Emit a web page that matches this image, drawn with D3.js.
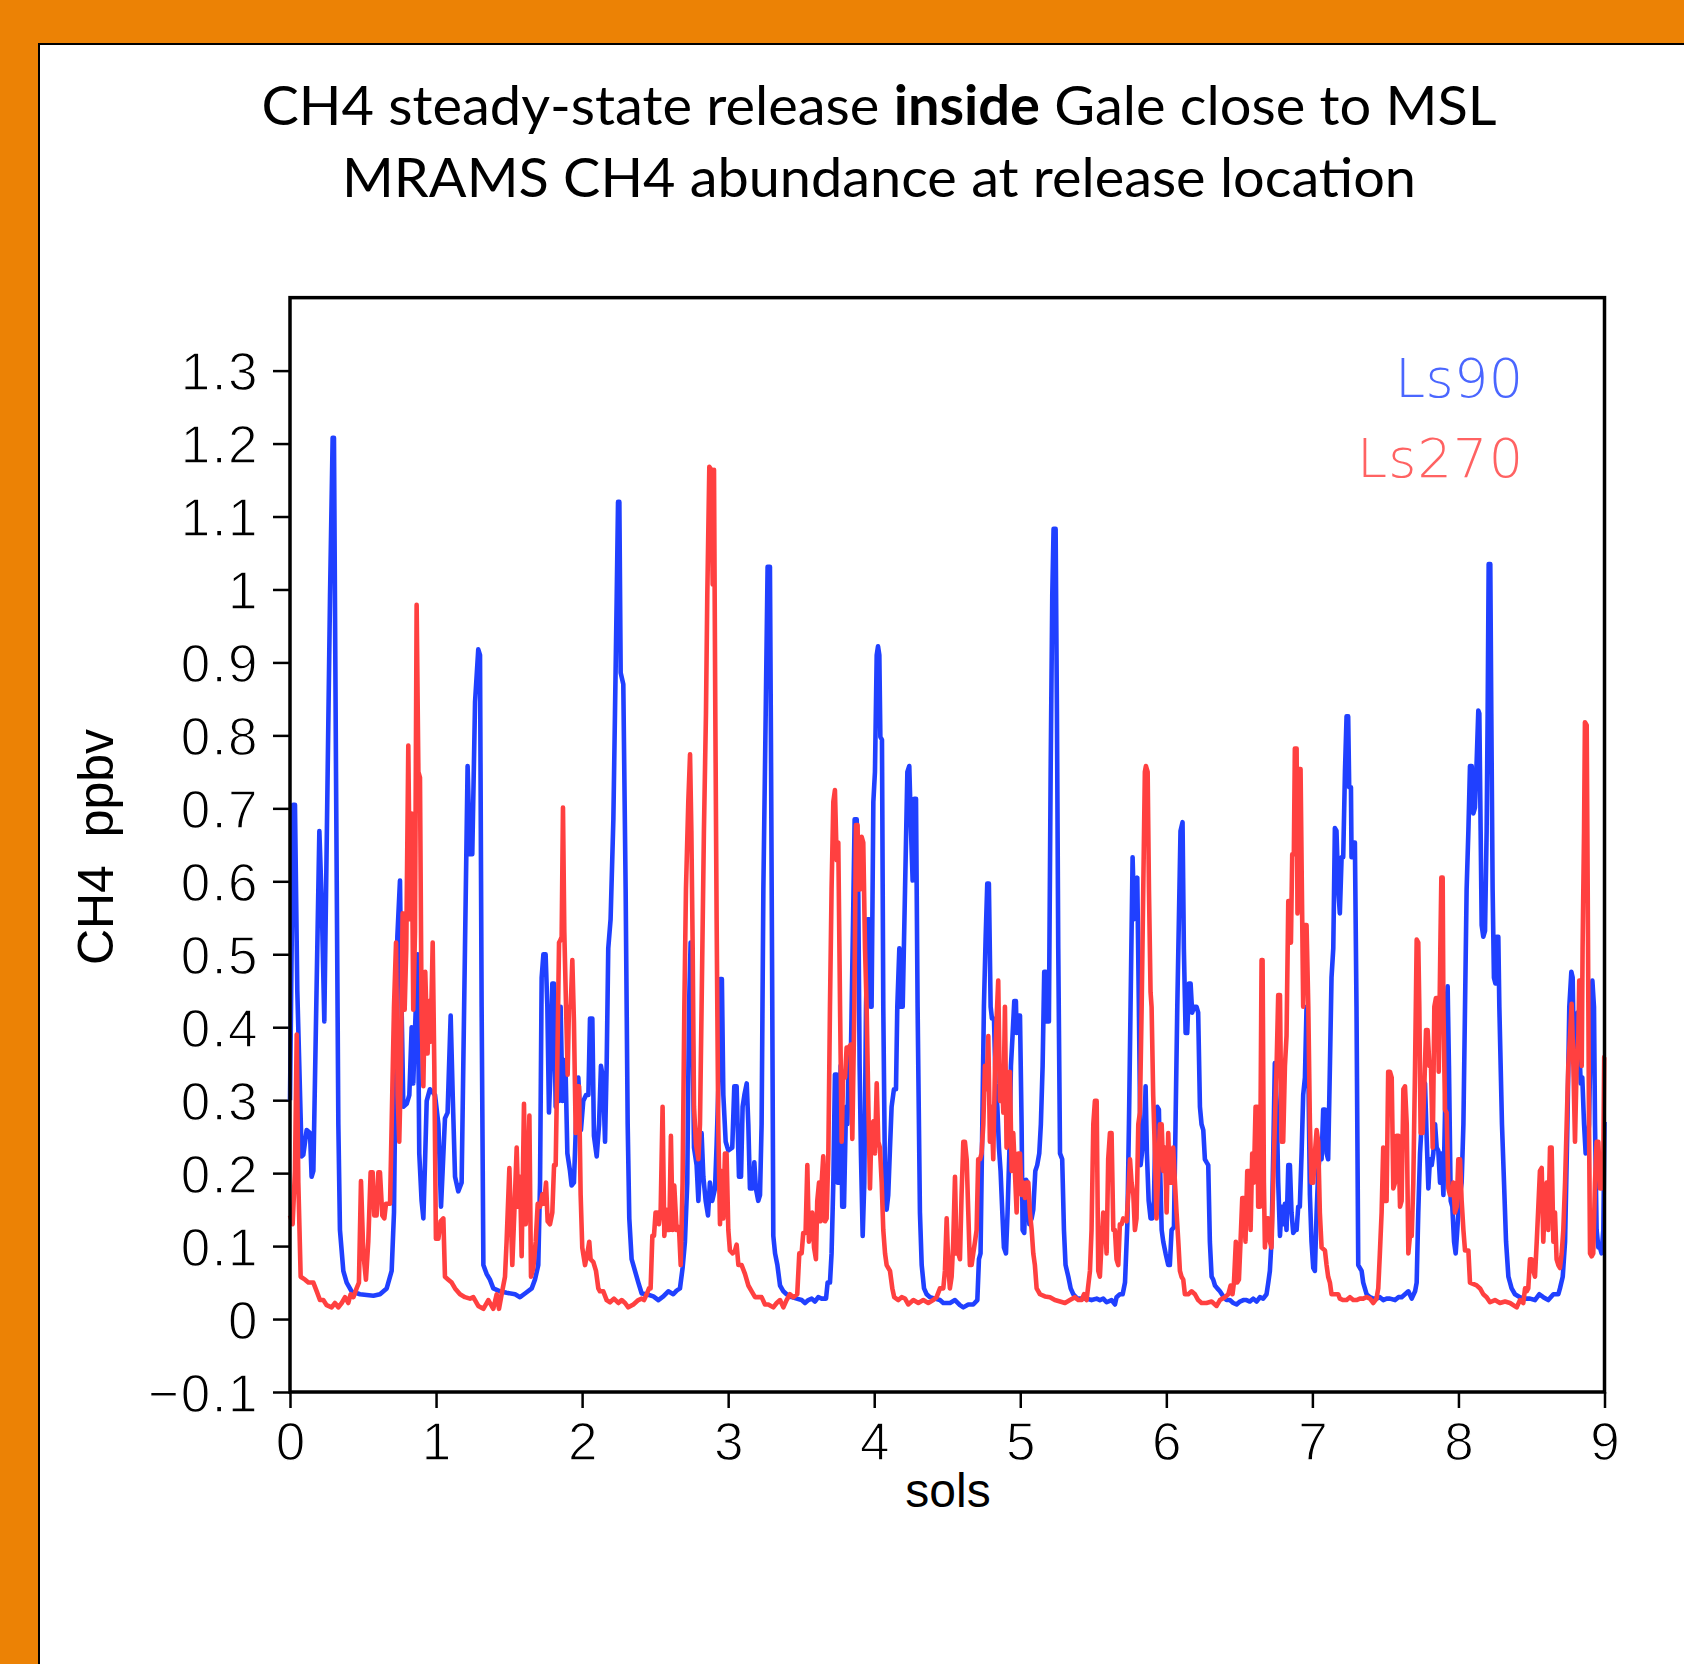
<!DOCTYPE html>
<html>
<head>
<meta charset="utf-8">
<script src="https://cdn.jsdelivr.net/npm/d3@7"></script>
<style>
  html, body { margin: 0; padding: 0; background: #EC8205; }
  svg { display: block; }
</style>
</head>
<body>
<script>
// ---------------- DATA ----------------
const titleLines = [
  [{t: "CH4 steady-state release ", b: false}, {t: "inside", b: true}, {t: " Gale close to MSL", b: false}],
  [{t: "MRAMS CH4 abundance at release location", b: false}]
];
const xLabel = "sols";
const yLabel = "CH4  ppbv";
const seriesNames = ["Ls90", "Ls270"];
const xTicks = [0, 1, 2, 3, 4, 5, 6, 7, 8, 9];
const yTicks = [-0.1, 0, 0.1, 0.2, 0.3, 0.4, 0.5, 0.6, 0.7, 0.8, 0.9, 1.0, 1.1, 1.2, 1.3];
const yTickLabels = ["\u22120.1", "0", "0.1", "0.2", "0.3", "0.4", "0.5", "0.6", "0.7", "0.8", "0.9", "1", "1.1", "1.2", "1.3"];

// Ls90 series: [sol, ppbv]
const ls90 = [
[0.000,0.30],[0.022,0.705],[0.034,0.705],[0.050,0.45],[0.080,0.223],[0.091,0.225],[0.114,0.259],[0.137,0.255],[0.148,0.195],[0.160,0.203],
[0.201,0.669],[0.217,0.573],[0.235,0.408],[0.274,0.991],[0.292,1.208],[0.301,1.208],[0.315,0.750],[0.331,0.267],[0.342,0.122],[0.365,0.066],
[0.388,0.050],[0.422,0.038],[0.479,0.034],[0.571,0.032],[0.616,0.034],[0.662,0.042],[0.696,0.066],[0.712,0.146],[0.723,0.347],[0.735,0.524],
[0.753,0.601],[0.764,0.428],[0.776,0.291],[0.799,0.295],[0.817,0.307],[0.833,0.400],[0.844,0.323],[0.856,0.396],[0.874,0.500],[0.885,0.227],
[0.901,0.162],[0.913,0.138],[0.924,0.211],[0.936,0.299],[0.958,0.315],[0.993,0.307],[1.016,0.267],[1.034,0.154],[1.045,0.203],[1.061,0.275],
[1.079,0.283],[1.100,0.416],[1.114,0.307],[1.130,0.195],[1.152,0.175],[1.175,0.187],[1.198,0.508],[1.216,0.758],[1.232,0.637],[1.248,0.637],
[1.267,0.846],[1.289,0.918],[1.301,0.910],[1.312,0.428],[1.324,0.074],[1.346,0.062],[1.369,0.054],[1.392,0.042],[1.438,0.038],
[1.483,0.036],[1.541,0.034],[1.575,0.030],[1.609,0.035],[1.655,0.042],[1.677,0.054],[1.700,0.074],[1.712,0.187],[1.723,0.468],[1.735,0.500],
[1.750,0.500],[1.762,0.428],[1.773,0.283],[1.785,0.347],[1.796,0.460],[1.807,0.460],[1.819,0.291],[1.830,0.323],[1.842,0.299],[1.853,0.428],
[1.865,0.299],[1.876,0.355],[1.887,0.339],[1.899,0.227],[1.917,0.203],[1.928,0.183],[1.944,0.187],[1.958,0.267],[1.974,0.331],[1.992,0.259],
[2.008,0.299],[2.027,0.307],[2.043,0.307],[2.054,0.412],[2.070,0.412],[2.081,0.251],[2.100,0.223],[2.116,0.267],[2.129,0.347],[2.143,0.331],
[2.157,0.243],[2.168,0.347],[2.179,0.508],[2.195,0.548],[2.214,0.685],[2.225,0.830],[2.237,0.991],[2.246,1.120],[2.255,1.120],[2.264,0.886],
[2.282,0.870],[2.298,0.589],[2.312,0.267],[2.323,0.138],[2.339,0.082],[2.362,0.066],[2.385,0.050],[2.408,0.035],[2.442,0.034],[2.488,0.031],
[2.522,0.026],[2.556,0.031],[2.590,0.038],[2.624,0.034],[2.647,0.039],[2.670,0.042],[2.688,0.070],[2.704,0.106],[2.720,0.187],[2.732,0.428],
[2.743,0.516],[2.757,0.388],[2.766,0.235],[2.784,0.211],[2.796,0.162],[2.807,0.211],[2.818,0.255],[2.830,0.195],[2.846,0.162],[2.862,0.142],
[2.875,0.187],[2.891,0.162],[2.910,0.179],[2.921,0.239],[2.935,0.331],[2.946,0.466],[2.957,0.466],
[2.967,0.307],[2.983,0.243],[3.001,0.231],[3.028,0.235],[3.042,0.319],[3.058,0.319],[3.074,0.195],[3.088,0.195],[3.099,0.291],[3.111,0.307],
[3.127,0.323],[3.138,0.267],[3.149,0.179],[3.168,0.179],[3.179,0.215],[3.190,0.179],[3.206,0.162],[3.218,0.170],[3.229,0.267],[3.241,0.589],
[3.257,0.830],[3.270,1.031],[3.286,1.031],[3.293,0.790],[3.302,0.428],[3.309,0.114],[3.321,0.090],[3.337,0.074],[3.355,0.046],[3.378,0.038],
[3.400,0.034],[3.435,0.030],[3.469,0.028],[3.503,0.026],[3.526,0.022],[3.549,0.026],[3.572,0.028],[3.594,0.024],[3.617,0.030],[3.640,0.028],
[3.670,0.028],[3.681,0.050],[3.697,0.050],[3.708,0.090],[3.720,0.187],[3.731,0.335],[3.743,0.335],[3.750,0.187],[3.761,0.187],[3.770,0.347],
[3.781,0.154],[3.793,0.154],[3.807,0.291],[3.816,0.267],[3.827,0.364],[3.841,0.372],[3.852,0.508],[3.866,0.685],[3.880,0.685],[3.891,0.581],
[3.900,0.347],[3.909,0.227],[3.921,0.114],[3.932,0.187],[3.944,0.428],[3.955,0.548],[3.966,0.548],[3.975,0.428],[3.982,0.428],[3.994,0.709],
[4.005,0.750],[4.017,0.910],[4.026,0.922],[4.035,0.910],[4.042,0.798],[4.053,0.794],[4.062,0.428],[4.074,0.187],[4.085,0.150],[4.096,0.170],
[4.108,0.235],[4.119,0.291],[4.135,0.315],[4.149,0.315],[4.158,0.428],[4.172,0.508],[4.183,0.428],[4.195,0.428],[4.211,0.589],[4.227,0.750],
[4.240,0.758],[4.252,0.669],[4.263,0.601],[4.274,0.713],[4.286,0.713],[4.297,0.428],[4.313,0.146],[4.325,0.074],[4.341,0.042],[4.359,0.034],
[4.382,0.030],[4.416,0.028],[4.450,0.026],[4.473,0.022],[4.519,0.022],
[4.553,0.026],[4.587,0.019],[4.610,0.016],[4.644,0.020],[4.678,0.020],[4.706,0.026],[4.717,0.082],[4.728,0.090],[4.740,0.267],[4.751,0.428],
[4.763,0.524],[4.774,0.597],[4.785,0.597],[4.797,0.428],[4.806,0.412],[4.820,0.412],[4.831,0.323],[4.843,0.291],[4.854,0.235],[4.865,0.203],
[4.877,0.146],[4.888,0.098],[4.902,0.090],[4.913,0.146],[4.925,0.227],[4.936,0.347],[4.947,0.388],[4.959,0.436],[4.970,0.436],[4.975,0.392],
[4.986,0.416],[4.998,0.416],[5.009,0.267],[5.016,0.122],[5.027,0.118],[5.039,0.191],[5.050,0.187],[5.062,0.130],[5.078,0.138],[5.089,0.150],
[5.103,0.203],[5.116,0.211],[5.130,0.227],[5.141,0.267],[5.153,0.347],[5.164,0.476],[5.176,0.476],[5.185,0.408],[5.196,0.408],[5.208,0.750],
[5.219,0.991],[5.228,1.083],[5.242,1.083],[5.251,0.830],[5.260,0.508],[5.272,0.227],[5.287,0.219],[5.299,0.122],[5.310,0.074],[5.329,0.058],
[5.345,0.042],[5.363,0.034],[5.390,0.028],[5.420,0.028],[5.454,0.028],[5.488,0.026],[5.523,0.028],[5.545,0.026],[5.568,0.028],[5.591,0.023],
[5.625,0.026],[5.648,0.020],[5.659,0.030],[5.682,0.034],[5.701,0.034],[5.717,0.050],[5.733,0.130],[5.744,0.267],[5.755,0.428],[5.769,0.633],
[5.780,0.548],[5.790,0.590],[5.801,0.605],[5.812,0.428],[5.824,0.211],[5.835,0.231],[5.847,0.235],[5.858,0.319],[5.867,0.227],[5.879,0.162],
[5.892,0.138],[5.904,0.138],[5.915,0.162],[5.926,0.267],[5.938,0.291],[5.949,0.287],[5.956,0.219],[5.968,0.122],[5.979,0.106],[5.995,0.090],
[6.013,0.074],[6.024,0.074],[6.036,0.122],[6.052,0.126],[6.063,0.267],[6.075,0.428],[6.086,0.548],[6.097,0.669],[6.111,0.681],[6.120,0.508],
[6.132,0.392],[6.143,0.392],[6.155,0.460],[6.166,0.460],[6.177,0.420],[6.189,0.428],[6.207,0.428],[6.218,0.420],[6.230,0.291],[6.241,0.267],
[6.253,0.259],[6.264,0.219],[6.275,0.215],[6.287,0.211],[6.298,0.106],[6.310,0.058],[6.321,0.054],[6.333,0.046],[6.349,0.042],[6.367,0.038],
[6.390,0.031],[6.412,0.026],[6.435,0.026],[6.458,0.022],[6.481,0.020],[6.504,0.024],[6.527,0.026],[6.549,0.026],[6.572,0.024],[6.595,0.028],
[6.618,0.024],[6.641,0.030],[6.663,0.028],[6.686,0.034],[6.698,0.050],[6.709,0.066],[6.720,0.106],[6.732,0.227],[6.743,0.351],[6.755,0.299],
[6.766,0.187],[6.778,0.114],[6.789,0.154],[6.800,0.130],[6.812,0.158],[6.823,0.122],[6.835,0.211],[6.846,0.211],[6.857,0.146],[6.869,0.118],
[6.880,0.122],[6.892,0.122],[6.903,0.154],[6.914,0.154],[6.926,0.227],[6.937,0.307],[6.949,0.331],[6.960,0.428],[6.972,0.347],[6.983,0.170],
[6.994,0.106],[7.006,0.070],[7.017,0.066],[7.029,0.146],[7.040,0.203],[7.051,0.227],[7.063,0.219],[7.074,0.287],[7.086,0.287],[7.097,0.227],
[7.108,0.219],[7.120,0.347],[7.131,0.468],[7.143,0.508],[7.154,0.673],[7.165,0.669],[7.177,0.589],[7.188,0.556],[7.200,0.633],[7.211,0.633],
[7.223,0.750],[7.234,0.826],[7.245,0.826],[7.252,0.729],[7.264,0.729],[7.268,0.633],[7.280,0.653],[7.291,0.653],[7.302,0.428],[7.314,0.074],
[7.337,0.066],[7.348,0.050],[7.371,0.034],[7.394,0.030],[7.417,0.028],[7.439,0.028],[7.462,0.030],[7.485,0.026],[7.508,0.028],
[7.531,0.028],[7.566,0.026],[7.589,0.030],[7.611,0.030],[7.634,0.034],[7.657,0.038],[7.680,0.028],[7.703,0.038],[7.714,0.050],[7.725,0.146],
[7.737,0.227],[7.748,0.267],[7.760,0.307],[7.771,0.323],[7.782,0.251],[7.794,0.179],[7.805,0.219],[7.817,0.211],[7.828,0.227],[7.840,0.267],
[7.851,0.235],[7.862,0.231],[7.874,0.187],[7.885,0.227],[7.897,0.170],[7.908,0.283],[7.919,0.428],[7.926,0.456],[7.935,0.347],[7.947,0.162],
[7.958,0.154],[7.970,0.106],[7.981,0.090],[7.992,0.122],[8.004,0.162],[8.022,0.187],[8.034,0.267],[8.045,0.428],[8.056,0.589],[8.068,0.669],
[8.079,0.758],[8.091,0.758],[8.102,0.693],[8.113,0.701],[8.125,0.766],[8.136,0.834],[8.143,0.830],[8.152,0.669],[8.159,0.540],[8.170,0.524],
[8.182,0.532],[8.193,0.669],[8.200,0.830],[8.207,1.035],[8.218,1.035],[8.225,0.830],[8.234,0.589],[8.243,0.468],[8.253,0.460],[8.262,0.524],
[8.273,0.524],[8.280,0.428],[8.289,0.347],[8.298,0.267],[8.312,0.187],[8.326,0.106],[8.342,0.058],[8.364,0.042],[8.387,0.034],[8.421,0.030],
[8.456,0.028],[8.490,0.028],[8.524,0.026],[8.554,0.034],[8.581,0.030],[8.615,0.026],[8.650,0.034],[8.684,0.034],[8.695,0.042],[8.714,0.058],
[8.730,0.106],[8.746,0.267],[8.759,0.428],[8.773,0.476],[8.782,0.468],[8.793,0.331],[8.805,0.404],[8.816,0.420],[8.825,0.388],[8.837,0.323],
[8.848,0.331],[8.860,0.267],[8.871,0.227],[8.882,0.235],[8.894,0.267],[8.905,0.388],[8.917,0.464],[8.928,0.428],[8.935,0.267],[8.946,0.122],
[8.958,0.098],[8.969,0.098],[8.980,0.090],[8.992,0.122],[9.000,0.270]
];

// Ls270 series: [sol, ppbv]
const ls270 = [
[0.000,0.142],[0.018,0.130],[0.034,0.203],[0.046,0.390],[0.057,0.187],[0.073,0.058],[0.103,0.054],[0.126,0.050],[0.160,0.050],[0.183,0.038],
[0.205,0.026],[0.228,0.026],[0.251,0.019],[0.285,0.016],[0.308,0.022],[0.331,0.016],[0.354,0.022],[0.377,0.030],[0.399,0.022],[0.415,0.034],
[0.434,0.030],[0.456,0.042],[0.472,0.050],[0.486,0.189],[0.502,0.090],[0.520,0.054],[0.536,0.106],[0.552,0.201],[0.566,0.201],[0.577,0.142],
[0.593,0.142],[0.605,0.201],[0.616,0.201],[0.632,0.142],[0.646,0.138],[0.657,0.158],[0.685,0.158],[0.696,0.267],[0.712,0.428],[0.726,0.516],
[0.737,0.307],[0.748,0.243],[0.760,0.347],[0.771,0.556],[0.785,0.424],[0.796,0.508],[0.810,0.786],[0.822,0.548],[0.833,0.693],[0.844,0.424],
[0.856,0.532],[0.867,0.979],[0.879,0.750],[0.890,0.742],[0.901,0.412],[0.913,0.319],[0.926,0.476],[0.942,0.364],[0.952,0.436],[0.963,0.380],
[0.977,0.516],[0.988,0.347],[0.999,0.110],[1.016,0.110],[1.031,0.134],[1.050,0.138],[1.061,0.058],[1.084,0.054],[1.107,0.050],[1.130,0.042],
[1.164,0.034],[1.198,0.030],[1.232,0.028],[1.255,0.030],[1.289,0.018],[1.324,0.014],[1.358,0.026],[1.392,0.014],[1.415,0.034],[1.431,0.014],
[1.449,0.034],[1.472,0.058],[1.483,0.106],[1.502,0.207],
[1.511,0.146],[1.522,0.074],[1.536,0.146],[1.552,0.235],[1.563,0.154],[1.575,0.195],[1.586,0.086],[1.602,0.295],[1.614,0.130],[1.627,0.187],
[1.639,0.279],[1.650,0.058],[1.666,0.070],[1.682,0.106],[1.696,0.158],[1.712,0.154],[1.728,0.171],[1.739,0.158],[1.753,0.187],[1.764,0.134],
[1.780,0.130],[1.796,0.146],[1.808,0.211],[1.819,0.211],[1.830,0.347],[1.842,0.516],[1.853,0.520],[1.860,0.524],[1.869,0.701],[1.878,0.532],
[1.890,0.428],[1.901,0.335],[1.910,0.428],[1.922,0.428],[1.933,0.492],[1.944,0.408],[1.956,0.255],[1.967,0.319],[1.979,0.319],[1.990,0.170],
[2.001,0.098],[2.020,0.074],[2.036,0.090],[2.049,0.106],[2.058,0.082],[2.077,0.078],[2.095,0.066],[2.111,0.042],[2.122,0.038],[2.145,0.038],
[2.168,0.026],[2.191,0.023],[2.218,0.028],[2.248,0.022],[2.271,0.026],[2.294,0.022],[2.316,0.016],[2.351,0.020],[2.385,0.026],[2.408,0.028],
[2.424,0.026],[2.442,0.034],[2.458,0.042],[2.469,0.042],[2.481,0.114],[2.492,0.114],[2.503,0.146],[2.515,0.146],[2.526,0.130],[2.538,0.150],
[2.551,0.291],[2.563,0.114],[2.574,0.150],[2.586,0.122],[2.597,0.122],[2.608,0.251],[2.620,0.122],[2.631,0.183],[2.647,0.122],[2.663,0.126],
[2.675,0.074],[2.688,0.187],[2.700,0.428],[2.711,0.589],[2.727,0.709],[2.739,0.774],[2.748,0.669],[2.757,0.508],[2.766,0.291],[2.780,0.239],
[2.796,0.219],[2.807,0.267],[2.818,0.428],[2.834,0.669],[2.848,0.830],[2.857,0.991],[2.871,1.168],[2.885,1.164],[2.894,1.007],[2.903,1.164],
[2.912,0.830],[2.921,0.548],[2.932,0.267],[2.944,0.130],[2.955,0.203],[2.967,0.138],[2.978,0.227],[2.989,0.227],[3.001,0.122],
[3.012,0.094],[3.031,0.090],[3.047,0.094],[3.058,0.102],[3.070,0.074],[3.092,0.074],[3.115,0.062],[3.138,0.046],[3.161,0.038],[3.184,0.030],
[3.229,0.030],[3.252,0.020],[3.275,0.020],[3.309,0.016],[3.332,0.022],[3.355,0.026],[3.378,0.016],[3.400,0.026],[3.423,0.034],[3.446,0.030],
[3.473,0.034],[3.487,0.090],[3.503,0.090],[3.514,0.118],[3.530,0.118],[3.542,0.211],[3.553,0.106],[3.565,0.122],[3.576,0.146],[3.588,0.098],
[3.601,0.082],[3.610,0.162],[3.622,0.187],[3.633,0.134],[3.640,0.187],[3.651,0.223],[3.663,0.134],[3.674,0.138],[3.686,0.227],[3.697,0.428],
[3.708,0.589],[3.720,0.709],[3.731,0.725],[3.743,0.629],[3.754,0.653],[3.766,0.428],[3.777,0.243],[3.788,0.339],[3.800,0.331],[3.811,0.372],
[3.823,0.372],[3.839,0.376],[3.850,0.247],[3.864,0.428],[3.875,0.677],[3.886,0.677],[3.893,0.589],[3.902,0.589],[3.914,0.661],[3.925,0.653],
[3.937,0.508],[3.948,0.428],[3.960,0.291],[3.971,0.179],[3.982,0.267],[3.994,0.271],[4.005,0.227],[4.017,0.323],[4.028,0.243],[4.039,0.235],
[4.051,0.187],[4.062,0.122],[4.074,0.090],[4.085,0.074],[4.108,0.066],[4.124,0.042],[4.137,0.030],[4.165,0.026],[4.188,0.030],[4.211,0.028],
[4.233,0.020],[4.268,0.026],[4.302,0.022],[4.336,0.026],[4.370,0.022],[4.404,0.026],[4.427,0.030],[4.450,0.042],[4.473,0.042],[4.484,0.066],
[4.496,0.138],[4.507,0.074],[4.518,0.042],[4.530,0.058],[4.541,0.106],[4.553,0.195],[4.564,0.090],[4.576,0.090],[4.587,0.082],[4.598,0.170],
[4.610,0.243],[4.621,0.243],[4.633,0.219],[4.644,0.146],[4.655,0.074],[4.667,0.074],[4.678,0.090],[4.690,0.106],[4.701,0.122],[4.712,0.219],
[4.724,0.219],[4.735,0.227],[4.747,0.267],[4.758,0.347],[4.769,0.315],[4.781,0.388],[4.792,0.243],[4.804,0.291],[4.815,0.219],[4.827,0.347],
[4.838,0.412],[4.849,0.464],[4.861,0.299],[4.872,0.347],[4.884,0.283],[4.895,0.428],[4.906,0.235],[4.918,0.307],[4.929,0.339],[4.941,0.203],
[4.952,0.255],[4.963,0.203],[4.975,0.146],[4.986,0.227],[4.998,0.227],[5.009,0.170],[5.021,0.187],[5.032,0.166],[5.043,0.187],[5.055,0.187],
[5.066,0.146],[5.078,0.122],[5.089,0.090],[5.100,0.074],[5.112,0.042],[5.135,0.034],[5.169,0.031],[5.203,0.030],[5.237,0.026],[5.272,0.024],
[5.306,0.022],[5.340,0.026],[5.374,0.030],[5.397,0.026],[5.420,0.026],[5.436,0.034],[5.454,0.026],[5.477,0.066],[5.488,0.122],[5.500,0.267],
[5.511,0.299],[5.523,0.299],[5.534,0.066],[5.545,0.058],[5.557,0.106],[5.568,0.146],[5.580,0.138],[5.591,0.090],[5.602,0.219],[5.614,0.255],
[5.625,0.255],[5.637,0.122],[5.648,0.122],[5.659,0.082],[5.671,0.074],[5.682,0.130],[5.694,0.130],[5.705,0.138],[5.728,0.134],[5.739,0.170],
[5.751,0.219],[5.762,0.187],[5.774,0.170],[5.785,0.122],[5.796,0.138],[5.808,0.267],[5.819,0.283],[5.831,0.428],[5.842,0.589],[5.853,0.750],
[5.860,0.758],[5.872,0.750],[5.881,0.589],[5.892,0.448],[5.899,0.428],[5.910,0.307],[5.922,0.227],[5.933,0.138],[5.945,0.203],[5.956,0.267],
[5.968,0.267],[5.979,0.203],[5.990,0.235],[6.002,0.146],[6.013,0.255],[6.024,0.187],[6.036,0.187],[6.047,0.235],[6.059,0.187],[6.070,0.146],
[6.082,0.106],[6.093,0.066],[6.104,0.058],[6.116,0.054],[6.127,0.034],[6.150,0.034],[6.173,0.038],[6.196,0.034],[6.218,0.026],[6.241,0.022],
[6.275,0.022],[6.310,0.024],[6.344,0.018],[6.367,0.026],[6.401,0.030],[6.424,0.034],[6.440,0.046],[6.453,0.034],[6.463,0.050],[6.476,0.106],
[6.485,0.050],[6.497,0.054],[6.508,0.106],[6.520,0.166],[6.531,0.166],[6.542,0.106],[6.554,0.203],[6.568,0.203],[6.577,0.122],[6.588,0.227],
[6.599,0.187],[6.611,0.291],[6.622,0.291],[6.629,0.154],[6.641,0.154],[6.652,0.492],[6.659,0.492],[6.668,0.187],[6.675,0.098],[6.686,0.138],
[6.698,0.138],[6.709,0.106],[6.720,0.098],[6.732,0.187],[6.743,0.267],[6.755,0.347],[6.766,0.444],[6.778,0.444],[6.789,0.243],[6.800,0.243],
[6.812,0.347],[6.823,0.388],[6.835,0.573],[6.846,0.573],[6.853,0.516],[6.862,0.637],[6.873,0.637],[6.880,0.782],[6.892,0.782],[6.898,0.556],
[6.910,0.754],[6.919,0.754],[6.928,0.589],[6.937,0.428],[6.949,0.540],[6.960,0.540],[6.972,0.428],[6.983,0.267],[6.994,0.187],[7.006,0.187],
[7.017,0.227],[7.029,0.259],[7.040,0.243],[7.051,0.146],[7.063,0.098],[7.086,0.094],[7.097,0.074],[7.108,0.058],[7.120,0.050],[7.131,0.034],
[7.154,0.034],[7.177,0.034],[7.188,0.028],[7.211,0.026],[7.234,0.026],[7.257,0.030],[7.280,0.026],[7.302,0.026],[7.325,0.028],[7.348,0.028],
[7.371,0.030],[7.394,0.028],[7.417,0.022],[7.439,0.028],[7.451,0.042],[7.462,0.090],[7.474,0.146],[7.485,0.235],[7.496,0.162],[7.508,0.162],
[7.519,0.339],[7.531,0.339],[7.543,0.331],[7.554,0.179],[7.566,0.187],[7.577,0.251],[7.589,0.251],[7.600,0.154],[7.611,0.162],[7.623,0.315],
[7.634,0.319],[7.646,0.267],[7.657,0.090],[7.668,0.114],[7.680,0.114],[7.691,0.187],[7.703,0.347],[7.714,0.520],[7.725,0.516],[7.732,0.428],
[7.741,0.255],[7.755,0.255],[7.767,0.323],[7.778,0.396],[7.789,0.396],[7.801,0.347],[7.812,0.347],[7.824,0.235],[7.835,0.428],[7.846,0.440],
[7.858,0.440],[7.865,0.339],[7.876,0.508],[7.883,0.605],[7.892,0.605],[7.897,0.428],[7.908,0.287],[7.919,0.283],[7.931,0.179],[7.942,0.170],
[7.954,0.170],[7.965,0.187],[7.976,0.146],[7.988,0.154],[7.999,0.219],[8.011,0.219],[8.022,0.162],[8.034,0.122],[8.045,0.094],[8.068,0.094],
[8.079,0.050],[8.125,0.046],[8.148,0.042],[8.170,0.034],[8.193,0.030],[8.216,0.023],[8.250,0.026],[8.284,0.022],[8.319,0.024],[8.353,0.022],
[8.399,0.016],[8.421,0.026],[8.444,0.022],[8.456,0.042],[8.467,0.038],[8.478,0.042],[8.490,0.082],[8.501,0.082],[8.513,0.066],[8.524,0.058],
[8.536,0.106],[8.547,0.154],[8.558,0.203],[8.570,0.207],[8.581,0.106],[8.593,0.170],[8.604,0.187],[8.615,0.122],[8.627,0.235],[8.638,0.235],
[8.650,0.106],[8.661,0.146],[8.672,0.082],[8.684,0.074],[8.695,0.070],[8.707,0.090],[8.718,0.122],[8.730,0.187],[8.741,0.267],[8.752,0.347],
[8.764,0.388],[8.775,0.432],[8.787,0.347],[8.798,0.243],[8.809,0.347],[8.821,0.388],[8.827,0.464],[8.836,0.464],[8.844,0.347],[8.850,0.508],
[8.860,0.669],[8.866,0.818],[8.878,0.814],[8.885,0.589],[8.894,0.267],[8.901,0.090],[8.912,0.086],[8.923,0.090],[8.935,0.187],[8.946,0.243],
[8.958,0.243],[8.969,0.179],[8.980,0.179],[8.992,0.227],[8.998,0.359],[9.000,0.359]
];

// ---------------- DRAW ----------------
const W = 1684, H = 1664;
const svg = d3.select("body").append("svg").attr("width", W).attr("height", H);

// orange background & white panel
svg.append("rect").attr("x", 0).attr("y", 0).attr("width", W).attr("height", H).attr("fill", "#EC8205");
svg.append("rect").attr("x", 40).attr("y", 45).attr("width", W).attr("height", H).attr("fill", "#8a4a00").attr("opacity", 0.35);
svg.append("rect").attr("x", 39).attr("y", 44).attr("width", W).attr("height", H)
  .attr("fill", "#fff").attr("stroke", "#000").attr("stroke-width", 2);

// title
const title = svg.append("g").attr("font-family", "Lato, 'Open Sans', sans-serif").attr("fill", "#000");
const titleY = [125, 197], titleW = [1235, 1074];
titleLines.forEach((parts, i) => {
  const t = title.append("text").attr("x", 879).attr("y", titleY[i])
    .attr("text-anchor", "middle").attr("font-size", 55)
    .attr("textLength", titleW[i]).attr("lengthAdjust", "spacingAndGlyphs");
  parts.forEach(p => t.append("tspan").text(p.t).attr("font-weight", p.b ? 700 : 400));
});

// scales
const x = d3.scaleLinear().domain([0, 9]).range([290, 1604.5]);
const y = d3.scaleLinear().domain([-0.1, 1.3]).range([1392, 370.6]);
const yTop = y(1.4);

// y axis
const yAxis = d3.axisLeft(y).tickValues(yTicks).tickSize(17)
  .tickFormat((d, i) => yTickLabels[i]).tickPadding(14);
const gy = svg.append("g").attr("transform", "translate(290,0)").call(yAxis);
gy.select(".domain").remove();
gy.selectAll(".tick line").attr("stroke", "#000").attr("stroke-width", 2.5);
gy.selectAll(".tick text").attr("font-family", "'Liberation Sans', Arial, sans-serif")
  .attr("font-size", 53).attr("fill", "#000").attr("dy", "0.36em")
  .attr("letter-spacing", 1.5)
  .attr("stroke", "#fff").attr("stroke-width", 1.3);

// x axis
const xAxis = d3.axisBottom(x).tickValues(xTicks).tickSize(16).tickFormat(d3.format("d")).tickPadding(14);
const gx = svg.append("g").attr("transform", "translate(0,1392)").call(xAxis);
gx.select(".domain").remove();
gx.selectAll(".tick line").attr("stroke", "#000").attr("stroke-width", 2.5);
gx.selectAll(".tick text").attr("font-family", "'Liberation Sans', Arial, sans-serif")
  .attr("font-size", 53).attr("fill", "#000").attr("dy", "0.71em").attr("y", 30)
  .attr("stroke", "#fff").attr("stroke-width", 1.3);

// axis titles
svg.append("text").attr("x", 948).attr("y", 1507).attr("text-anchor", "middle")
  .attr("font-family", "'Liberation Sans', Arial, sans-serif").attr("font-size", 48).text(xLabel);
svg.append("text").attr("transform", "translate(113,847) rotate(-90)").attr("text-anchor", "middle")
  .attr("font-family", "'Liberation Sans', Arial, sans-serif").attr("font-size", 50)
  .style("white-space", "pre").text(yLabel);

// lines
const line = d3.line().x(d => x(d[0])).y(d => y(d[1]));
const plot = svg.append("g");
plot.append("path").datum(ls90).attr("d", line).attr("fill", "none")
  .attr("stroke", "#2040FF").attr("stroke-width", 4.6).attr("stroke-linejoin", "round");
plot.append("path").datum(ls270).attr("d", line).attr("fill", "none")
  .attr("stroke", "#FF4040").attr("stroke-width", 4.6).attr("stroke-linejoin", "round");

// frame
svg.append("rect").attr("x", x(0)).attr("y", yTop).attr("width", x(9) - x(0)).attr("height", y(-0.1) - yTop)
  .attr("fill", "none").attr("stroke", "#000").attr("stroke-width", 3.5);

// legend
const legColors = ["#4A66FF", "#FF6262"];
const legY = [397, 477], legW = [128, 166];
seriesNames.forEach((n, i) => {
  svg.append("text").attr("x", 1523).attr("y", legY[i]).attr("text-anchor", "end")
    .attr("font-family", "'DejaVu Sans', sans-serif").attr("font-weight", 200)
    .attr("font-size", 54).attr("fill", legColors[i])
    .attr("textLength", legW[i]).attr("lengthAdjust", "spacing").text(n);
});
</script>
</body>
</html>
